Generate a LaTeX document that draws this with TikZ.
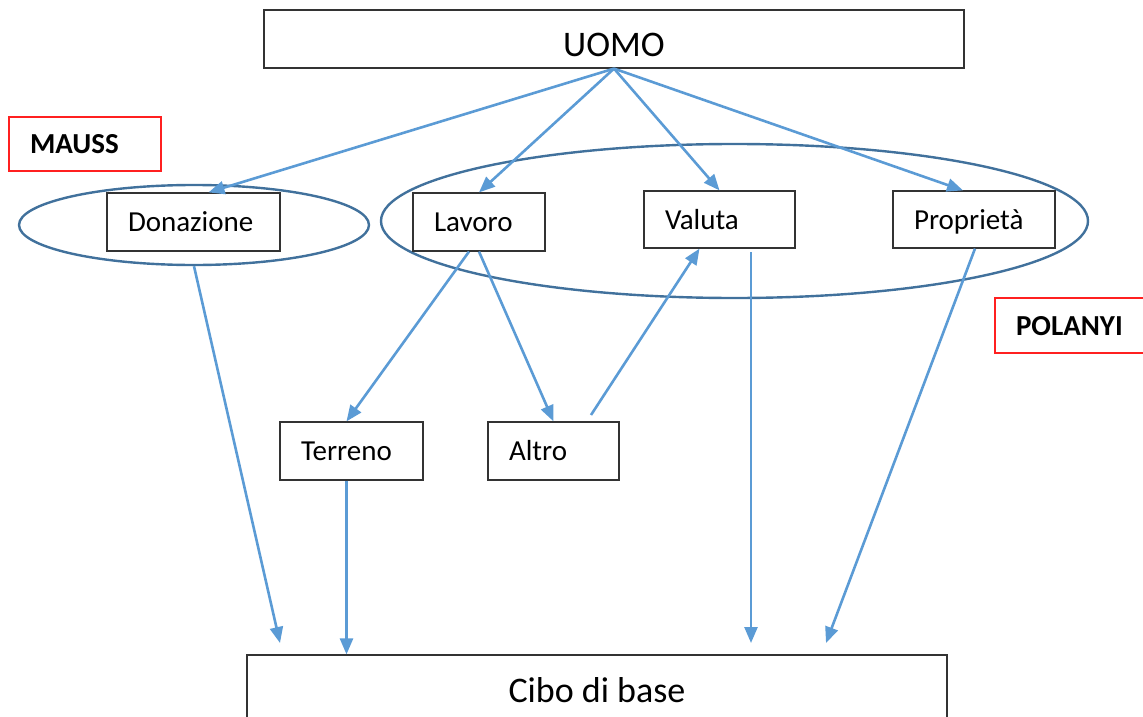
\documentclass[tikz,border=0pt]{standalone}
\usepackage{fontspec}
\setmainfont{Carlito}
\usetikzlibrary{shapes.geometric,arrows.meta,positioning}
\definecolor{arrowblue}{HTML}{5B9BD5}
\definecolor{ringblue}{HTML}{41719C}
\definecolor{tagred}{HTML}{FF2020}
\tikzset{
    box/.style={draw=black!80, line width=1.2pt, inner xsep=21pt, inner ysep=0pt,
                align=left, minimum height=58pt, text height=19pt, text depth=0pt,
                font=\fontsize{29}{34}\selectfont}, % small text boxes
    bigbox/.style={draw=black!80, line width=1.2pt, inner sep=0pt, minimum width=700pt,
                   text depth=0pt, font=\fontsize{36}{42}\selectfont}, % top and bottom boxes
    tag/.style={box, draw=tagred, font=\bfseries\fontsize{29}{34}\selectfont}, % red author labels
    ring/.style={ellipse, draw=ringblue, line width=2.4pt, inner sep=0pt}, % groups
    flow/.style={color=arrowblue, line width=2.6pt, -{Triangle[length=16pt,width=13pt]}}, % blue arrows
}
\begin{document}
\begin{tikzpicture}[x=1pt,y=-1pt]
  \useasboundingbox (0,0) rectangle (1143,717);
  \clip (0,0) rectangle (1143,717);

  % groups
  \node[ring, minimum width=350pt, minimum height=80pt]  (e_don) at (194,225)   {};
  \node[ring, minimum width=707pt, minimum height=154pt] (e_pol) at (734.5,221) {};

  \node[bigbox, minimum height=58pt, text height=35pt] (b_uomo) at (614,39)  {UOMO};
  \node[tag, text width=110pt, minimum height=54pt]   (b_mauss)   at (85,144)    {MAUSS};
  \node[tag, text width=116pt, minimum height=55pt]   (b_polanyi) at (1074,325.5) {POLANYI};

  \node[box, text width=131pt] (b_don)  at (193.5,222)   {Donazione};
  \node[box, text width=90pt]  (b_lav)  at (479,222)     {Lavoro};
  \node[box, text width=109pt, minimum height=57pt] (b_val)  at (719.5,219.5) {Valuta};
  \node[box, text width=120pt, minimum height=57pt] (b_prop) at (974,219.5)   {Proprietà};
  \node[box, text width=101pt] (b_ter)  at (351.5,451)   {Terreno};
  \node[box, text width=89pt]  (b_alt)  at (553.5,451)   {Altro};

  \node[bigbox, minimum height=70pt, text height=24pt] (b_cibo) at (597,690) {Cibo di base};

  % free ends
  \coordinate (c_don)   at (280,643);
  \coordinate (c_valup) at (751,252);
  \coordinate (c_val)   at (751,643);
  \coordinate (c_prop)  at (826,643);
  \coordinate (c_alt)   at (591,415);

  \path[flow]
    (b_uomo.south) edge ([xshift=15pt]b_don.north)
                   edge (b_lav.north)
                   edge (b_val.north)
                   edge ([xshift=-11pt]b_prop.north)
    (e_don.south)  edge (c_don)
    ([xshift=-10pt]b_lav.south) edge ([xshift=-5pt]b_ter.north)
    (b_lav.south)  edge (b_alt.north)
    (c_alt)        edge ([xshift=-20pt]b_val.south)
    ([xshift=-5pt]b_ter.south) edge ([xshift=-5pt]b_ter.south |- b_cibo.north)
    (c_valup)      edge (c_val)
    ([xshift=1pt]b_prop.south) edge (c_prop);
\end{tikzpicture}
\end{document}
